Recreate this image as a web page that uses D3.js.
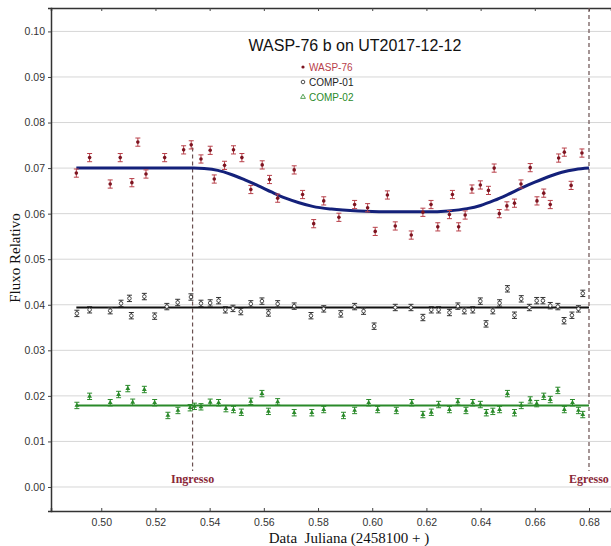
<!DOCTYPE html>
<html>
<head>
<meta charset="utf-8">
<script src="https://cdn.jsdelivr.net/npm/d3@7"></script>
<style>
  body { margin: 0; background: #fff; }
</style>
</head>
<body>
<div id="chart"></div>
<script>
// values
var waspX = [0.4908, 0.4957, 0.5033, 0.5070, 0.5113, 0.5135, 0.5165, 0.5234, 0.5304, 0.5332,
    0.5368, 0.5402, 0.5417, 0.5455, 0.5488, 0.5519, 0.5552, 0.5594, 0.5621, 0.5651,
    0.5712, 0.5743, 0.5784, 0.5821, 0.5877, 0.5935, 0.5983, 0.6011, 0.6056, 0.6085,
    0.6144, 0.6187, 0.6217, 0.6242, 0.6285, 0.6296, 0.6319, 0.6343, 0.6368, 0.6399,
    0.6429, 0.6450, 0.6469, 0.6497, 0.6525, 0.6549, 0.6583, 0.6608, 0.6633, 0.6657,
    0.6688, 0.6709, 0.6734, 0.6774];
var waspY = [0.0689, 0.0723, 0.0665, 0.0723, 0.0668, 0.0757, 0.0687, 0.0723, 0.0740, 0.0751,
    0.0720, 0.0739, 0.0676, 0.0706, 0.0740, 0.0723, 0.0653, 0.0707, 0.0675, 0.0634,
    0.0696, 0.0642, 0.0578, 0.0628, 0.0592, 0.0620, 0.0613, 0.0561, 0.0641, 0.0573,
    0.0553, 0.0603, 0.0620, 0.0571, 0.0598, 0.0642, 0.0571, 0.0597, 0.0654, 0.0663,
    0.0651, 0.0700, 0.0600, 0.0617, 0.0623, 0.0665, 0.0701, 0.0628, 0.0645, 0.0620,
    0.0722, 0.0735, 0.0662, 0.0733];

var comp1X = [0.4910, 0.4957, 0.5033, 0.5073, 0.5104, 0.5111, 0.5159, 0.5197, 0.5242, 0.5282,
    0.5331, 0.5368, 0.5402, 0.5433, 0.5458, 0.5486, 0.5515, 0.5552, 0.5593, 0.5617,
    0.5651, 0.5712, 0.5774, 0.5821, 0.5884, 0.5935, 0.5968, 0.6007, 0.6085, 0.6143,
    0.6187, 0.6218, 0.6245, 0.6285, 0.6316, 0.6340, 0.6371, 0.6399, 0.6420, 0.6445,
    0.6470, 0.6499, 0.6525, 0.6550, 0.6580, 0.6607, 0.6630, 0.6657, 0.6685, 0.6708,
    0.6737, 0.6761, 0.6777];
var comp1Y = [0.0381, 0.0389, 0.0387, 0.0403, 0.0414, 0.0376, 0.0418, 0.0375, 0.0396, 0.0405,
    0.0417, 0.0403, 0.0404, 0.0409, 0.0389, 0.0392, 0.0385, 0.0402, 0.0408, 0.0382,
    0.0402, 0.0397, 0.0376, 0.0391, 0.0380, 0.0396, 0.0386, 0.0353, 0.0394, 0.0394,
    0.0372, 0.0389, 0.0389, 0.0383, 0.0397, 0.0387, 0.0389, 0.0408, 0.0358, 0.0387,
    0.0404, 0.0435, 0.0377, 0.0413, 0.0394, 0.0409, 0.0409, 0.0398, 0.0396, 0.0365,
    0.0377, 0.0391, 0.0425];

var comp2X = [0.4910, 0.4957, 0.5033, 0.5064, 0.5098, 0.5116, 0.5159, 0.5197, 0.5246, 0.5283,
    0.5328, 0.5344, 0.5368, 0.5402, 0.5433, 0.5460, 0.5488, 0.5517, 0.5552, 0.5593,
    0.5617, 0.5651, 0.5712, 0.5777, 0.5821, 0.5894, 0.5935, 0.5987, 0.6020, 0.6089,
    0.6146, 0.6187, 0.6218, 0.6245, 0.6285, 0.6316, 0.6346, 0.6371, 0.6399, 0.6421,
    0.6445, 0.6470, 0.6499, 0.6525, 0.6550, 0.6583, 0.6607, 0.6633, 0.6657, 0.6685,
    0.6709, 0.6739, 0.6761, 0.6777];
var comp2Y = [0.0179, 0.0199, 0.0185, 0.0203, 0.0216, 0.0186, 0.0214, 0.0185, 0.0157, 0.0168,
    0.0174, 0.0177, 0.0176, 0.0186, 0.0185, 0.0172, 0.0170, 0.0164, 0.0188, 0.0205,
    0.0166, 0.0187, 0.0163, 0.0163, 0.0170, 0.0157, 0.0168, 0.0185, 0.0170, 0.0168,
    0.0185, 0.0159, 0.0164, 0.0181, 0.0170, 0.0187, 0.0168, 0.0185, 0.0181, 0.0163,
    0.0166, 0.0170, 0.0205, 0.0163, 0.0179, 0.0191, 0.0183, 0.0199, 0.0192, 0.0212,
    0.0170, 0.0185, 0.0168, 0.0159];

// transit model curve, read point by point
var modelX = [0.4908, 0.534, 0.538, 0.543, 0.548, 0.553, 0.558, 0.563, 0.568, 0.573,
    0.578, 0.585, 0.595, 0.610, 0.620, 0.628, 0.635, 0.640, 0.645, 0.650,
    0.655, 0.660, 0.665, 0.670, 0.675, 0.680];
var modelY = [0.0700, 0.0700, 0.0699, 0.0695, 0.0686, 0.0674, 0.0661, 0.0647, 0.0634, 0.0624,
    0.0616, 0.0610, 0.0606, 0.0604, 0.0604, 0.0606, 0.0611, 0.0618, 0.0629, 0.0642,
    0.0656, 0.0669, 0.0681, 0.0691, 0.0697, 0.0700];

var comp1Level = 0.0394;
var comp2Level = 0.0179;
var lineRange = [0.4908, 0.680];

var ingress = 0.5337;
var egress = 0.680;

var xTicks = [0.50, 0.52, 0.54, 0.56, 0.58, 0.60, 0.62, 0.64, 0.66, 0.68];
var yTicks = [0.00, 0.01, 0.02, 0.03, 0.04, 0.05, 0.06, 0.07, 0.08, 0.09, 0.10];

var legendNames = ["WASP-76", "COMP-01", "COMP-02"];

var width = 611, height = 546;
var margin = {top: 8, right: 0, bottom: 35, left: 51};

var redDot = "#7d1420", redBar = "#b8404a";
var greenCol = "#2a8a2a";

var svg = d3.select("#chart")
    .append("svg")
    .attr("width", width)
    .attr("height", height)
    .style("font-family", "Arial, 'Liberation Sans', sans-serif");

var x = d3.scaleLinear()
    .domain([0.48145, 0.68812])
    .range([margin.left, width - margin.right]);

var y = d3.scaleLinear()
    .domain([-0.00527, 0.10514])
    .range([height - margin.bottom, margin.top]);

// grid lines
svg.append("g")
    .selectAll("line")
    .data(yTicks)
    .enter().append("line")
    .attr("x1", margin.left)
    .attr("x2", width - margin.right)
    .attr("y1", function (d) { return y(d); })
    .attr("y2", function (d) { return y(d); })
    .style("stroke", "#d6d6d6")
    .style("stroke-width", 1);

// axes
var xAxis = svg.append("g")
    .attr("transform", "translate(0," + (height - margin.bottom) + ")")
    .call(d3.axisBottom(x).tickValues(xTicks).tickSize(-3).tickPadding(8)
        .tickFormat(d3.format(".2f")));

var topAxis = svg.append("g")
    .attr("transform", "translate(0," + margin.top + ")")
    .call(d3.axisTop(x).tickValues(xTicks).tickSize(-3).tickFormat(""));

var yAxis = svg.append("g")
    .attr("transform", "translate(" + margin.left + ",0)")
    .call(d3.axisLeft(y).tickValues(yTicks).tickSize(3).tickPadding(3)
        .tickFormat(d3.format(".2f")));

[xAxis, topAxis, yAxis].forEach(function (a) {
    a.select(".domain").style("stroke", "#333").style("stroke-width", 1.5);
    a.selectAll(".tick line").style("stroke", "#444");
    a.selectAll("text")
        .style("font-size", "10.5px")
        .style("fill", "#333")
        .style("font-family", "Arial, 'Liberation Sans', sans-serif");
});

// axis labels
svg.append("text")
    .attr("x", 349)
    .attr("y", 543)
    .attr("text-anchor", "middle")
    .style("font-family", "'Liberation Serif', 'Times New Roman', serif")
    .style("font-size", "15px")
    .style("fill", "#111")
    .style("white-space", "pre")
    .text("Data  Juliana (2458100 + )");

svg.append("text")
    .attr("transform", "rotate(-90)")
    .attr("x", -258)
    .attr("y", 20)
    .attr("text-anchor", "middle")
    .style("font-family", "'Liberation Serif', 'Times New Roman', serif")
    .style("font-size", "15px")
    .style("fill", "#111")
    .text("Fluxo Relativo");

// title
svg.append("text")
    .attr("x", 355)
    .attr("y", 51)
    .attr("text-anchor", "middle")
    .style("font-size", "16px")
    .style("fill", "#111")
    .text("WASP-76 b on UT2017-12-12");

// ingress / egress dashed lines
svg.append("line")
    .attr("x1", x(ingress)).attr("x2", x(ingress))
    .attr("y1", y(0.0745)).attr("y2", y(0.0035))
    .style("stroke", "#6a5050")
    .style("stroke-width", 1.2)
    .style("stroke-dasharray", "4,3");

svg.append("line")
    .attr("x1", x(egress)).attr("x2", x(egress))
    .attr("y1", margin.top).attr("y2", y(0.0035))
    .style("stroke", "#6a5050")
    .style("stroke-width", 1.2)
    .style("stroke-dasharray", "4,3");

svg.append("text")
    .attr("x", x(ingress))
    .attr("y", 483)
    .attr("text-anchor", "middle")
    .style("font-family", "'Liberation Serif', 'Times New Roman', serif")
    .style("font-weight", "bold")
    .style("font-size", "12px")
    .style("fill", "#8a2838")
    .text("Ingresso");

svg.append("text")
    .attr("x", x(egress))
    .attr("y", 483)
    .attr("text-anchor", "middle")
    .style("font-family", "'Liberation Serif', 'Times New Roman', serif")
    .style("font-weight", "bold")
    .style("font-size", "12px")
    .style("fill", "#8a2838")
    .text("Egresso");

// flat fits for comparison stars
svg.append("line")
    .attr("x1", x(lineRange[0])).attr("x2", x(lineRange[1]))
    .attr("y1", y(comp1Level)).attr("y2", y(comp1Level))
    .style("stroke", "#111")
    .style("stroke-width", 2);

svg.append("line")
    .attr("x1", x(lineRange[0])).attr("x2", x(lineRange[1]))
    .attr("y1", y(comp2Level)).attr("y2", y(comp2Level))
    .style("stroke", greenCol)
    .style("stroke-width", 2);

// model curve
var model = modelX.map(function (d, i) { return [d, modelY[i]]; });
svg.append("path")
    .datum(model)
    .attr("d", d3.line()
        .curve(d3.curveMonotoneX)
        .x(function (d) { return x(d[0]); })
        .y(function (d) { return y(d[1]); }))
    .style("fill", "none")
    .style("stroke", "#14217a")
    .style("stroke-width", 3);

// error bars helper
function errorBars(xs, ys, err, color) {
    var g = svg.append("g").style("stroke", color).style("stroke-width", 1);
    var pts = xs.map(function (d, i) { return [d, ys[i]]; });
    g.selectAll(".eb")
        .data(pts)
        .enter().append("path")
        .attr("d", function (d) {
            var px = x(d[0]), y0 = y(d[1] - err), y1 = y(d[1] + err);
            return "M" + (px - 2.5) + "," + y1 + "H" + (px + 2.5) +
                "M" + px + "," + y1 + "V" + y0 +
                "M" + (px - 2.5) + "," + y0 + "H" + (px + 2.5);
        })
        .style("fill", "none");
    return pts;
}

var waspPts = errorBars(waspX, waspY, 0.0009, redBar);
svg.append("g")
    .selectAll("circle")
    .data(waspPts)
    .enter().append("circle")
    .attr("cx", function (d) { return x(d[0]); })
    .attr("cy", function (d) { return y(d[1]); })
    .attr("r", 1.8)
    .style("fill", redDot);

var comp1Pts = errorBars(comp1X, comp1Y, 0.0007, "#333");
svg.append("g")
    .selectAll("circle")
    .data(comp1Pts)
    .enter().append("circle")
    .attr("cx", function (d) { return x(d[0]); })
    .attr("cy", function (d) { return y(d[1]); })
    .attr("r", 1.8)
    .style("fill", "#fff")
    .style("stroke", "#222")
    .style("stroke-width", 0.8);

var comp2Pts = errorBars(comp2X, comp2Y, 0.0007, greenCol);
svg.append("g")
    .selectAll("path")
    .data(comp2Pts)
    .enter().append("path")
    .attr("transform", function (d) { return "translate(" + x(d[0]) + "," + y(d[1]) + ")"; })
    .attr("d", d3.symbol().type(d3.symbolTriangle).size(10))
    .style("fill", greenCol);

// legend
var legendColors = [redBar, "#222", greenCol];
var legend = svg.append("g").attr("transform", "translate(303,67)");
legend.selectAll("text")
    .data(legendNames)
    .enter().append("text")
    .attr("x", 6)
    .attr("y", function (d, i) { return i * 15 + 3.5; })
    .style("font-size", "10px")
    .style("fill", function (d, i) { return legendColors[i]; })
    .text(function (d) { return d; });

legend.append("circle").attr("cx", 0).attr("cy", 0).attr("r", 1.6).style("fill", redDot);
legend.append("circle").attr("cx", 0).attr("cy", 15).attr("r", 1.8)
    .style("fill", "#fff").style("stroke", "#222").style("stroke-width", 0.8);
legend.append("path")
    .attr("transform", "translate(0,30)")
    .attr("d", d3.symbol().type(d3.symbolTriangle).size(10))
    .style("fill", "none").style("stroke", greenCol).style("stroke-width", 0.8);
</script>
</body>
</html>
